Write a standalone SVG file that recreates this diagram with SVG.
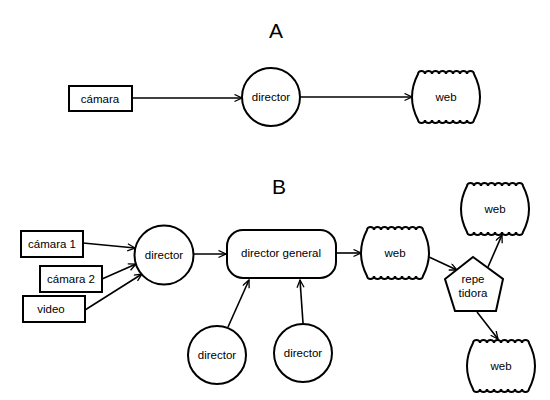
<svg xmlns="http://www.w3.org/2000/svg" width="550" height="400" viewBox="0 0 550 400">
<style>
.s{fill:#fff;stroke:#000;stroke-width:2}
.t{font-family:"Liberation Sans",Arial,sans-serif;font-size:11.5px;fill:#000;text-anchor:middle;dominant-baseline:central}
.h{font-family:"Liberation Sans",Arial,sans-serif;font-size:21px;fill:#000;text-anchor:middle}
.c{stroke:#000;stroke-width:1.6;fill:none;marker-end:url(#a)}
</style>
<defs>
<marker id="a" markerUnits="userSpaceOnUse" markerWidth="10" markerHeight="10" refX="8" refY="4" orient="auto">
<path d="M0.5,0.5 L8,4 L0.5,7.5" fill="none" stroke="#000" stroke-width="1.3"/>
</marker>
<path id="web" class="s" d="M-28,-23 a3.5,3 0 0 1 7,0 a3.5,3 0 0 1 7,0 a3.5,3 0 0 1 7,0 a3.5,3 0 0 1 7,0 a3.5,3 0 0 1 7,0 a3.5,3 0 0 1 7,0 a3.5,3 0 0 1 7,0 a3.5,3 0 0 1 7,0 Q40,0 28,23 a3.5,3 0 0 1 -7,0 a3.5,3 0 0 1 -7,0 a3.5,3 0 0 1 -7,0 a3.5,3 0 0 1 -7,0 a3.5,3 0 0 1 -7,0 a3.5,3 0 0 1 -7,0 a3.5,3 0 0 1 -7,0 a3.5,3 0 0 1 -7,0 Q-40,0 -28,-23 Z"/>
</defs>
<text class="h" x="276" y="38">A</text>
<text class="h" x="279" y="194">B</text>
<g id="connectors">
<line class="c" x1="132" y1="98" x2="242" y2="98"/>
<line class="c" x1="300" y1="97" x2="412" y2="97"/>
<line class="c" x1="83" y1="243" x2="135" y2="248"/>
<line class="c" x1="102" y1="279" x2="136" y2="264"/>
<line class="c" x1="85" y1="310" x2="142" y2="274"/>
<line class="c" x1="193" y1="254" x2="226" y2="254"/>
<line class="c" x1="228" y1="327" x2="249" y2="280"/>
<line class="c" x1="303" y1="323" x2="300" y2="280"/>
<line class="c" x1="336" y1="253" x2="361" y2="253"/>
<line class="c" x1="429" y1="257" x2="457" y2="270"/>
<line class="c" x1="488" y1="267" x2="502" y2="235"/>
<line class="c" x1="477" y1="312" x2="498" y2="339"/>
</g>
<g id="camaraA"><rect class="s" x="69" y="86" width="63" height="25"/><text class="t" x="100" y="98.5">cámara</text></g>
<g id="directorA"><circle class="s" cx="271" cy="97" r="29"/><text class="t" x="271" y="97">director</text></g>
<g id="webA"><use href="#web" x="446" y="97"/><text class="t" x="446" y="97">web</text></g>
<g id="camara1"><rect class="s" x="21" y="231" width="62" height="26"/><text class="t" x="52" y="244">cámara 1</text></g>
<g id="camara2"><rect class="s" x="40" y="266" width="62" height="26"/><text class="t" x="71" y="279">cámara 2</text></g>
<g id="video"><rect class="s" x="23" y="296" width="62" height="26"/><text class="t" x="51" y="309">video</text></g>
<g id="directorB"><circle class="s" cx="164" cy="255" r="29.5"/><text class="t" x="164" y="255">director</text></g>
<g id="directorGeneral"><rect class="s" x="227" y="230" width="109" height="48" rx="16"/><text class="t" x="281" y="253">director general</text></g>
<g id="director2"><circle class="s" cx="217" cy="355" r="29"/><text class="t" x="217" y="355">director</text></g>
<g id="director3"><circle class="s" cx="303" cy="353" r="29"/><text class="t" x="303" y="353">director</text></g>
<g id="webB"><use href="#web" x="395" y="253"/><text class="t" x="395" y="253">web</text></g>
<g id="repetidora"><polygon class="s" points="473,257 503,279 496,311 455,311 445,279"/><text class="t" x="473" y="279">repe</text><text class="t" x="473" y="293">tidora</text></g>
<g id="webTop"><use href="#web" x="495" y="209"/><text class="t" x="495" y="209">web</text></g>
<g id="webBottom"><use href="#web" x="501" y="366"/><text class="t" x="501" y="366">web</text></g>
</svg>
